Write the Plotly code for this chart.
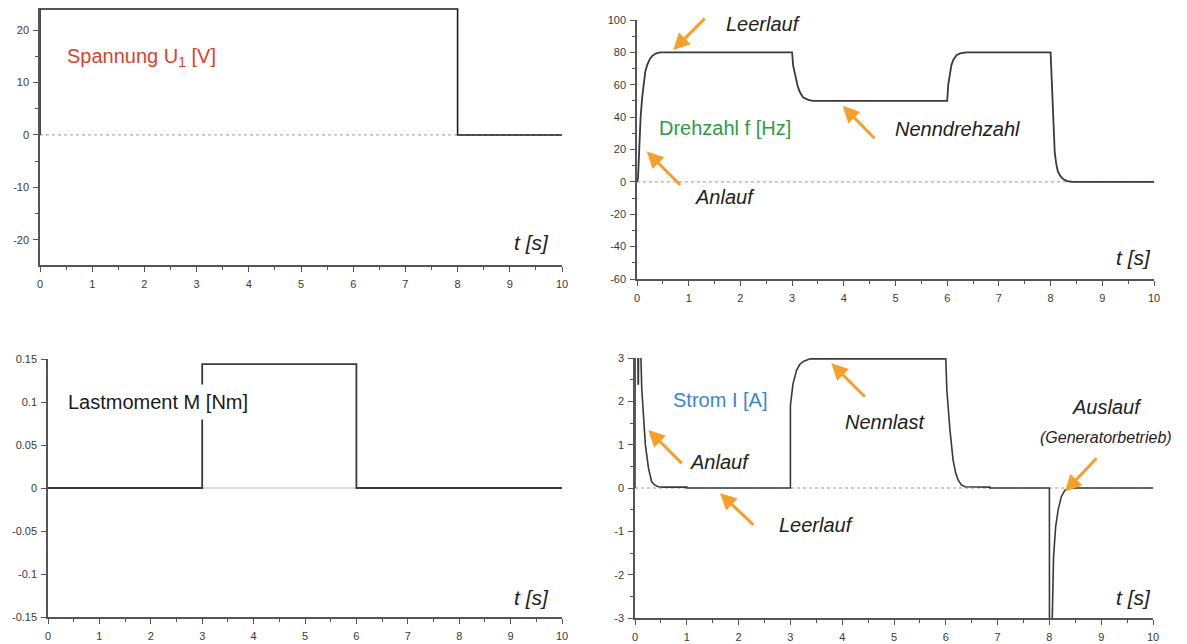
import plotly.graph_objects as go

W, H = 1187, 644

# ---------------- data ----------------
t_u = [0, 0, 8, 8, 10]
u_val = [0, 24, 24, 0, 0]

t_f = [0, 0.02, 0.03, 0.05, 0.07, 0.1, 0.12, 0.16, 0.2, 0.25, 0.3, 0.37, 0.45, 0.55,
       3.0, 3.02, 3.05, 3.08, 3.11, 3.15, 3.21, 3.3, 3.4, 3.5,
       6.0, 6.02, 6.05, 6.08, 6.12, 6.18, 6.25, 6.37,
       8.0, 8.02, 8.05, 8.08, 8.11, 8.14, 8.19, 8.24, 8.32, 8.43, 10]
f_val = [0, 2, 10, 28, 40, 52, 58.6, 68, 72.5, 76, 78, 79.4, 80, 80,
         80, 72, 67, 62, 58.8, 55.5, 52.3, 50.8, 50.1, 50,
         50, 60, 67, 72, 75.5, 78.3, 79.4, 80,
         80, 63, 36.5, 18, 11, 6.5, 3.5, 1.8, 0.5, 0, 0]

t_m = [0, 3, 3, 6, 6, 10]
m_val = [0, 0, 0.144, 0.144, 0, 0]

t_i = [0, 0.005, 0.06, 0.065, 0.09, 0.11, 0.13, 0.16, 0.2, 0.26, 0.32, 0.38, 0.45, 0.55, 1.0, 1.0,
       3.0, 3.0, 3.05, 3.12, 3.18, 3.25, 3.38,
       6.0, 6.02, 6.08, 6.14, 6.19, 6.24, 6.3, 6.37, 6.85, 6.85,
       8.0, 8.005, 8.05, 8.08, 8.12, 8.17, 8.23, 8.3, 8.4, 10]
i_val = [0, 12, 2.4, 2.4, 8, 3.2, 2.3, 1.76, 1.0, 0.46, 0.15, 0.07, 0.03, 0.02, 0.02, 0,
         0, 1.9, 2.4, 2.72, 2.85, 2.92, 2.98,
         2.98, 2.26, 1.34, 0.65, 0.35, 0.18, 0.07, 0.03, 0.02, 0,
         0, -12, -3.3, -1.6, -0.9, -0.5, -0.2, -0.05, 0, 0]

x_ticks = [0, 1, 2, 3, 4, 5, 6, 7, 8, 9, 10]
x_ticktext = ["0", "1", "2", "3", "4", "5", "6", "7", "8", "9", "10"]
u_ticks = [-20, -10, 0, 10, 20]
u_ticktext = ["-20", "-10", "0", "10", "20"]
f_ticks = [-60, -40, -20, 0, 20, 40, 60, 80, 100]
f_ticktext = ["-60", "-40", "-20", "0", "20", "40", "60", "80", "100"]
m_ticks = [-0.15, -0.1, -0.05, 0, 0.05, 0.1, 0.15]
m_ticktext = ["-0.15", "-0.1", "-0.05", "0", "0.05", "0.1", "0.15"]
i_ticks = [-3, -2, -1, 0, 1, 2, 3]
i_ticktext = ["-3", "-2", "-1", "0", "1", "2", "3"]

# ---------------- figure ----------------
def px(x):
    return x / W

def py(y):
    return 1 - y / H

LINE = "#3a3a3a"
AX = "#555555"
ORANGE = "#f5a02c"
FONT = "Liberation Sans"

fig = go.Figure()

zero_x = [0, 10]
zero_y = [0, 0]

# panel 1
fig.add_trace(go.Scatter(x=zero_x, y=zero_y, mode="lines", xaxis="x", yaxis="y",
                         line=dict(color="#9a9a9a", width=1, dash="dot")))
fig.add_trace(go.Scatter(x=t_u, y=u_val, mode="lines", xaxis="x", yaxis="y",
                         line=dict(color="#1e1e1e", width=1.6)))
# panel 2
fig.add_trace(go.Scatter(x=zero_x, y=zero_y, mode="lines", xaxis="x2", yaxis="y2",
                         line=dict(color="#9a9a9a", width=1, dash="dot")))
fig.add_trace(go.Scatter(x=t_f, y=f_val, mode="lines", xaxis="x2", yaxis="y2",
                         line=dict(color=LINE, width=1.8)))
# panel 3
fig.add_trace(go.Scatter(x=zero_x, y=zero_y, mode="lines", xaxis="x3", yaxis="y3",
                         line=dict(color="#bbbbbb", width=1)))
fig.add_trace(go.Scatter(x=t_m, y=m_val, mode="lines", xaxis="x3", yaxis="y3",
                         line=dict(color=LINE, width=1.8)))
# panel 4
fig.add_trace(go.Scatter(x=zero_x, y=zero_y, mode="lines", xaxis="x4", yaxis="y4",
                         line=dict(color="#9a9a9a", width=1, dash="dot")))
fig.add_trace(go.Scatter(x=t_i, y=i_val, mode="lines", xaxis="x4", yaxis="y4",
                         line=dict(color=LINE, width=1.6)))


def xaxis(domain, anchor):
    return dict(domain=domain, anchor=anchor, range=[0, 10], tickvals=x_ticks, ticktext=x_ticktext,
                showgrid=False, zeroline=False, showline=True, linecolor=AX, linewidth=1.5,
                ticks="outside", ticklen=5, tickwidth=1, tickcolor=AX,
                minor=dict(dtick=0.5, ticks="outside", ticklen=3, tickcolor=AX, showgrid=False),
                tickfont=dict(family=FONT, size=11, color="#3a3a3a"), ticklabelstandoff=3,
                automargin=False, fixedrange=True)


def yaxis(domain, anchor, rng, tv, tt, minor_dtick=None):
    d = dict(domain=domain, anchor=anchor, range=rng, tickvals=tv, ticktext=tt,
             showgrid=False, zeroline=False, showline=True, linecolor=AX, linewidth=1.5,
             ticks="outside", ticklen=5, tickwidth=1, tickcolor=AX,
             tickfont=dict(family=FONT, size=11, color="#3a3a3a"), ticklabelstandoff=2,
             automargin=False, fixedrange=True)
    if minor_dtick:
        d["minor"] = dict(dtick=minor_dtick, tick0=0, ticks="outside", ticklen=3, tickcolor=AX, showgrid=False)
    return d


layout = dict(
    width=W, height=H, margin=dict(l=0, r=0, t=0, b=0, autoexpand=False),
    paper_bgcolor="white", plot_bgcolor="white", showlegend=False,
    xaxis=xaxis([px(40), px(562)], "y"),
    yaxis=yaxis([py(265), py(8)], "x", [-24.8, 24.2], u_ticks, u_ticktext, 5),
    xaxis2=xaxis([px(637), px(1154)], "y2"),
    yaxis2=yaxis([py(279), py(20)], "x2", [-60, 100], f_ticks, f_ticktext, 10),
    xaxis3=xaxis([px(48), px(562)], "y3"),
    yaxis3=yaxis([py(617), py(359)], "x3", [-0.15, 0.15], m_ticks, m_ticktext),
    xaxis4=xaxis([px(635), px(1153)], "y4"),
    yaxis4=yaxis([py(618), py(358)], "x4", [-3, 3], i_ticks, i_ticktext, 0.5),
)
fig.update_layout(**layout)

anns = []

def label(text, x, y, color="#222", size=20, italic=False, bg=None, pad=1):
    a = dict(text=text, x=px(x), y=py(y), xref="paper", yref="paper",
             showarrow=False, xanchor="center", yanchor="middle", borderpad=pad,
             font=dict(family=FONT, size=size, color=color,
                       style="italic" if italic else "normal"))
    if bg:
        a["bgcolor"] = bg
    anns.append(a)

label("Spannung U<sub>1</sub> [V]", 141, 57, color="#d8432e")
label("Drehzahl f [Hz]", 725, 128, color="#2f9b45")
label("Lastmoment M [Nm]", 158, 402, color="#1a1a1a", bg="white", pad=6)
label("Strom I [A]", 720, 400, color="#3b86d4")

for (x, y) in [(531, 242), (1133, 257), (531, 597), (1133, 597)]:
    label("t [s]", x, y, size=21, italic=True)

label("Leerlauf", 763, 24, italic=True)
label("Anlauf", 725, 197, italic=True)
label("Nenndrehzahl", 957, 129, italic=True)
label("Anlauf", 720, 462, italic=True)
label("Leerlauf", 816, 525, italic=True)
label("Nennlast", 885, 422, italic=True)
label("Auslauf", 1107, 407, italic=True)
label("(Generatorbetrieb)", 1106, 437, size=16, italic=True)

def arrow(xr, yr, x, y, ax, ay):
    anns.append(dict(text="", x=x, y=y, xref=xr, yref=yr, ax=ax, ay=ay,
                     axref="pixel", ayref="pixel", showarrow=True,
                     arrowhead=2, arrowsize=1.1, arrowwidth=3, arrowcolor=ORANGE, standoff=0))

arrow("x2", "y2", 0.70, 81.4, 33, -33)
arrow("x2", "y2", 0.19, 18.8, 35, 35)
arrow("x2", "y2", 3.98, 47, 33, 34)
arrow("x4", "y4", 0.257, 1.34, 35, 35)
arrow("x4", "y4", 1.64, -0.12, 35, 33)
arrow("x4", "y4", 3.79, 2.88, 35, 35)
arrow("x4", "y4", 8.30, -0.085, 33, -35)

fig.update_layout(annotations=anns)
fig.write_html("out.html", config={"displayModeBar": False},
               post_script="document.body.style.margin='0';document.body.style.padding='0';"
                           "document.body.style.overflow='hidden';")
